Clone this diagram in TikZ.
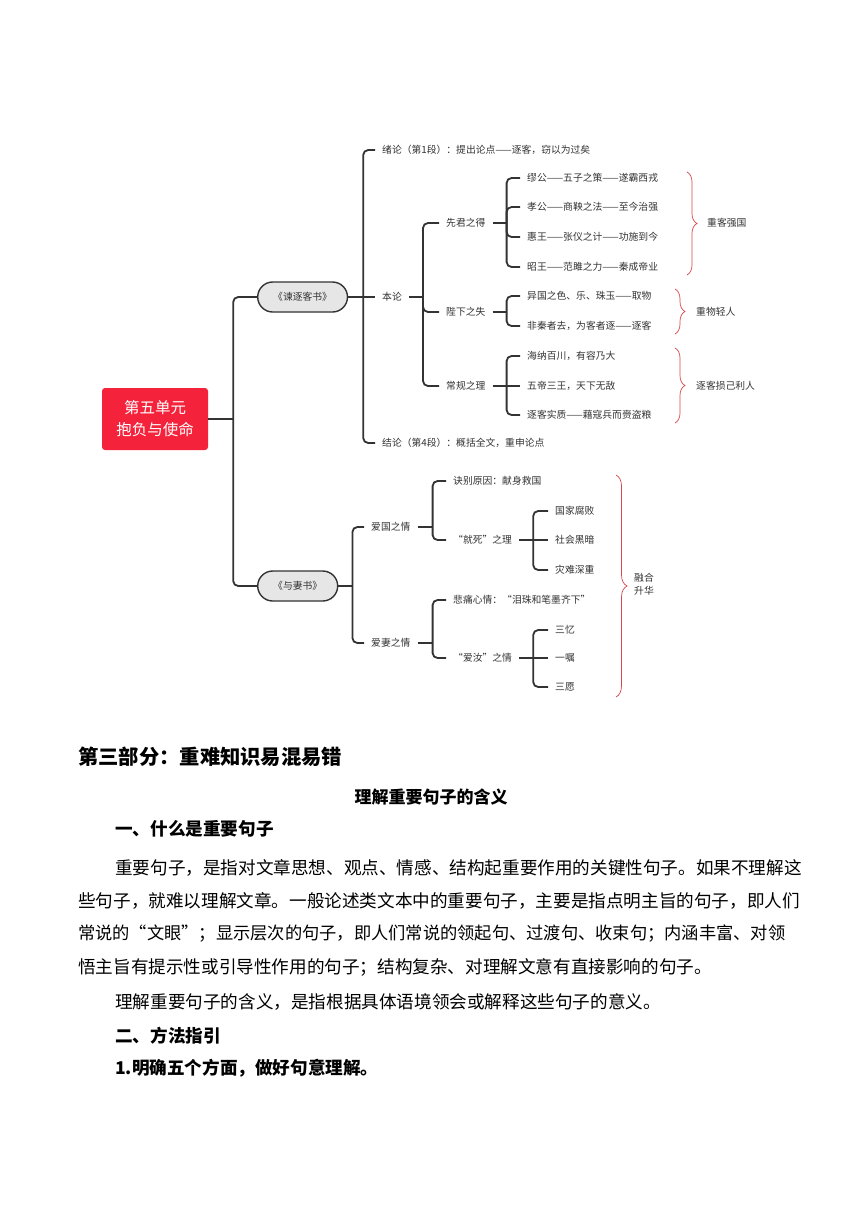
\documentclass[tikz,border=0pt]{standalone}
\usepackage{fontspec}
\setmainfont{Noto Sans CJK SC}
\usepackage{tikz}
\usetikzlibrary{positioning,calc,decorations.pathreplacing}
\definecolor{ink}{HTML}{333333}
\definecolor{rootred}{HTML}{F4233B}
\definecolor{pillgray}{HTML}{E6E6E6}
\definecolor{bracered}{HTML}{D5474B}
\newcommand{\mapsize}{\fontsize{9.8}{13}\selectfont}
\newcommand{\bodysize}{\fontsize{17.6}{20}\selectfont}

\begin{document}
\begin{tikzpicture}[x=1pt, y=-1pt, font=\mapsize,
    leaf/.style={anchor=west, inner xsep=7pt, inner ysep=1pt, text=ink},
    pill/.style={draw=ink, line width=1.4pt, fill=pillgray, rounded corners=15pt, minimum height=30pt, inner xsep=15.5pt, text=ink, anchor=west},
    twig/.style={draw=ink, line width=1.8pt, rounded corners=5pt},
    brc/.style={draw=bracered, line width=0.7pt, decorate, decoration={brace, amplitude=10pt, aspect=0.5}},
    tag/.style={anchor=west, inner sep=0pt, text=ink, align=left},
    bodyline/.style={anchor=west, inner sep=0pt, font=\bodysize}]
  \useasboundingbox (0,0) rectangle (860,1216);
  \fill[white] (0,0) rectangle (860,1216);

  % mind map
  \node[fill=rootred, rounded corners=3pt, minimum width=106pt, minimum height=62pt, align=center, text=white,
    font=\fontsize{15.5}{22}\selectfont] (root) at (155,419) {第五单元\\抱负与使命};
  \node[pill] (jian) at (257,297) {《谏逐客书》};
  \node[pill] (qi) at (257,586) {《与妻书》};

  \node[leaf] (xu) at (375,150) {绪论（第1段）：提出论点——逐客，窃以为过矣};
  \node[leaf] (ben) at (375,297) {本论};
  \node[leaf] (jie) at (375,443) {结论（第4段）：概括全文，重申论点};

  \node[leaf] (xian) at (439,223) {先君之得};
  \node[leaf] (bi) at (439,312) {陛下之失};
  \node[leaf] (chang) at (439,386) {常规之理};

  \node[leaf] (x1) at (520,178) {缪公——五子之策——遂霸西戎};
  \node[leaf] (x2) at (520,207) {孝公——商鞅之法——至今治强};
  \node[leaf] (x3) at (520,237) {惠王——张仪之计——功施到今};
  \node[leaf] (x4) at (520,267) {昭王——范雎之力——秦成帝业};
  \node[leaf] (b1) at (520,296) {异国之色、乐、珠玉——取物};
  \node[leaf] (b2) at (520,326) {非秦者去，为客者逐——逐客};
  \node[leaf] (c1) at (520,356) {海纳百川，有容乃大};
  \node[leaf] (c2) at (520,386) {五帝三王，天下无敌};
  \node[leaf] (c3) at (520,415) {逐客实质——藉寇兵而赍盗粮};

  \node[leaf] (aiguo) at (364,527) {爱国之情};
  \node[leaf] (aiqi) at (364,643) {爱妻之情};
  \node[leaf] (jue) at (446,481) {诀别原因：献身救国};
  \node[leaf] (jiusi) at (446,540) {“就死”之理};
  \node[leaf] (bei) at (446,600) {悲痛心情：“泪珠和笔墨齐下”};
  \node[leaf] (airu) at (446,658) {“爱汝”之情};
  \node[leaf] (j1) at (548,511) {国家腐败};
  \node[leaf] (j2) at (548,540) {社会黑暗};
  \node[leaf] (j3) at (548,570) {灾难深重};
  \node[leaf] (a1) at (548,630) {三忆};
  \node[leaf] (a2) at (548,658) {一嘱};
  \node[leaf] (a3) at (548,687) {三愿};

  % forks
  \coordinate (rootj) at ([xshift=25pt]root.east);
  \coordinate (jianj) at ([xshift=15pt]jian.east);
  \coordinate (benj) at ([xshift=14pt]ben.east);
  \coordinate (xianj) at ([xshift=14pt]xian.east);
  \coordinate (bij) at ([xshift=14pt]bi.east);
  \coordinate (changj) at ([xshift=14pt]chang.east);
  \coordinate (qij) at ([xshift=14pt]qi.east);
  \coordinate (aiguoj) at ([xshift=15pt]aiguo.east);
  \coordinate (aiqij) at ([xshift=15pt]aiqi.east);
  \coordinate (jiusij) at ([xshift=14pt]jiusi.east);
  \coordinate (airuj) at ([xshift=14pt]airu.east);

  \draw[twig] (root.east) -- (rootj);
  \foreach \n in {jian,qi} \draw[twig] (rootj) |- (\n.west);
  \draw[twig] (jian.east) -- (jianj);
  \foreach \n in {xu,jie} \draw[twig] (jianj) |- (\n.west);
  \draw[twig] (jianj) -- (ben.west);
  \draw[twig] (ben.east) -- (benj);
  \foreach \n in {xian,bi,chang} \draw[twig] (benj) |- (\n.west);
  \draw[twig] (xian.east) -- (xianj);
  \foreach \n in {x1,x2,x3,x4} \draw[twig] (xianj) |- (\n.west);
  \draw[twig] (bi.east) -- (bij);
  \foreach \n in {b1,b2} \draw[twig] (bij) |- (\n.west);
  \draw[twig] (chang.east) -- (changj);
  \foreach \n in {c1,c3} \draw[twig] (changj) |- (\n.west);
  \draw[twig] (changj) -- (c2.west);

  \draw[twig] (qi.east) -- (qij);
  \foreach \n in {aiguo,aiqi} \draw[twig] (qij) |- (\n.west);
  \draw[twig] (aiguo.east) -- (aiguoj);
  \foreach \n in {jue,jiusi} \draw[twig] (aiguoj) |- (\n.west);
  \draw[twig] (aiqi.east) -- (aiqij);
  \foreach \n in {bei,airu} \draw[twig] (aiqij) |- (\n.west);
  \draw[twig] (jiusi.east) -- (jiusij);
  \foreach \n in {j1,j3} \draw[twig] (jiusij) |- (\n.west);
  \draw[twig] (jiusij) -- (j2.west);
  \draw[twig] (airu.east) -- (airuj);
  \foreach \n in {a1,a3} \draw[twig] (airuj) |- (\n.west);
  \draw[twig] (airuj) -- (a2.west);

  % braces
  \draw[brc] (687,172) -- (687,275);
  \node[tag] (zk) at (707,223) {重客强国};
  \draw[brc] (675,289) -- (675,334);
  \node[tag] (zw) at (696,312) {重物轻人};
  \draw[brc] (675,348) -- (675,423);
  \node[tag] (zs) at (696,386) {逐客损己利人};
  \draw[brc, decoration={amplitude=11pt}] (616,475) -- (616,697);
  \node[tag] (rh) at (634,584) {融合\\升华};

  % text below
  \node[anchor=west, inner sep=0pt, font=\fontsize{20.3}{24}\selectfont\bfseries] (part) at (78,757) {第三部分：重难知识易混易错};
  \node[inner sep=0pt, font=\fontsize{17}{20}\selectfont\bfseries] (topic) at (431,797) {理解重要句子的含义};
  \node[bodyline, font=\bodysize\bfseries] (q1) at (115,829) {一、什么是重要句子};
  \node[bodyline] (p1) at (115,868) {重要句子，是指对文章思想、观点、情感、结构起重要作用的关键性句子。如果不理解这};
  \node[bodyline] (p2) at (78,901) {些句子，就难以理解文章。一般论述类文本中的重要句子，主要是指点明主旨的句子，即人们};
  \node[bodyline, font=\fontsize{17.25}{20}\selectfont] (p3) at (78,934) {常说的“文眼”；显示层次的句子，即人们常说的领起句、过渡句、收束句；内涵丰富、对领};
  \node[bodyline] (p4) at (78,967) {悟主旨有提示性或引导性作用的句子；结构复杂、对理解文意有直接影响的句子。};
  \node[bodyline] (p5) at (115,1002) {理解重要句子的含义，是指根据具体语境领会或解释这些句子的意义。};
  \node[bodyline, font=\bodysize\bfseries] (q2) at (115,1036) {二、方法指引};
  \node[bodyline, font=\bodysize\bfseries] (q3) at (115,1068) {1.明确五个方面，做好句意理解。};
\end{tikzpicture}
\end{document}
